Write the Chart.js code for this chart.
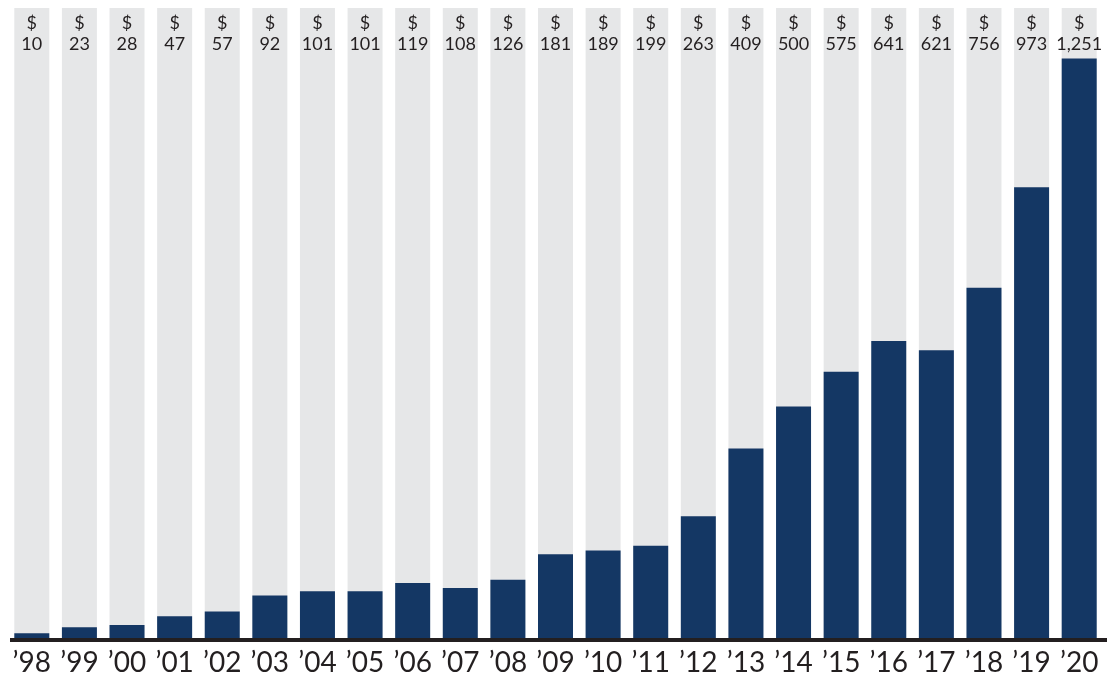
<!DOCTYPE html>
<html>
<head>
<meta charset="utf-8">
<style>
  html, body { margin: 0; padding: 0; background: #ffffff; }
  #wrap { width: 1112px; height: 675px; position: relative; }
</style>
<script src="https://cdn.jsdelivr.net/npm/chart.js@4/dist/chart.umd.min.js"></script>
</head>
<body>
<div id="wrap"><canvas id="chart"></canvas></div>
<script>
// Annual totals, 1998–2020
const years = ['’98','’99','’00','’01','’02','’03','’04','’05','’06','’07','’08','’09','’10','’11','’12','’13','’14','’15','’16','’17','’18','’19','’20'];
const totals = [10, 23, 28, 47, 57, 92, 101, 101, 119, 108, 126, 181, 189, 199, 263, 409, 500, 575, 641, 621, 756, 973, 1251];
const scaleMax = 1360;
const track = years.map(() => scaleMax);

const navy = '#143764';
const grey = '#e6e7e8';
const ink = '#231f20';
const font = 'Lato, "Open Sans", "DejaVu Sans", sans-serif';

// value labels in each column and the heavy baseline
const decorations = {
  id: 'decorations',
  afterDatasetsDraw(chart) {
    const { ctx, chartArea } = chart;
    ctx.save();
    ctx.fillStyle = ink;
    ctx.fillRect(chartArea.left + 2, chartArea.bottom, chartArea.right - chartArea.left + 2, 4);
    const meta = chart.getDatasetMeta(1);
    ctx.textAlign = 'center';
    ctx.textBaseline = 'middle';
    ctx.font = '18px ' + font;
    meta.data.forEach((bar, i) => {
      ctx.fillText('$', bar.x, chartArea.top + 15);
      ctx.fillText(totals[i].toLocaleString('en-US'), bar.x, chartArea.top + 36);
    });
    ctx.restore();
  }
};

new Chart(document.getElementById('chart'), {
  type: 'bar',
  data: {
    labels: years,
    datasets: [
      { data: track, backgroundColor: grey, grouped: false, order: 2, barPercentage: 0.735, categoryPercentage: 1 },
      { data: totals, backgroundColor: navy, grouped: false, order: 1, barPercentage: 0.735, categoryPercentage: 1 }
    ]
  },
  options: {
    responsive: true,
    maintainAspectRatio: false,
    animation: false,
    layout: { padding: { left: 8, right: 9, top: 8, bottom: 0 } },
    plugins: { legend: { display: false }, tooltip: { enabled: false } },
    scales: {
      x: {
        grid: { display: false },
        border: { display: false },
        ticks: { color: ink, font: { family: font, size: 28 }, padding: 0, maxRotation: 0, autoSkip: false },
        afterFit(scale) { scale.height = 37; }
      },
      y: {
        display: false,
        min: 0,
        max: scaleMax
      }
    }
  },
  plugins: [decorations]
});
</script>
</body>
</html>
